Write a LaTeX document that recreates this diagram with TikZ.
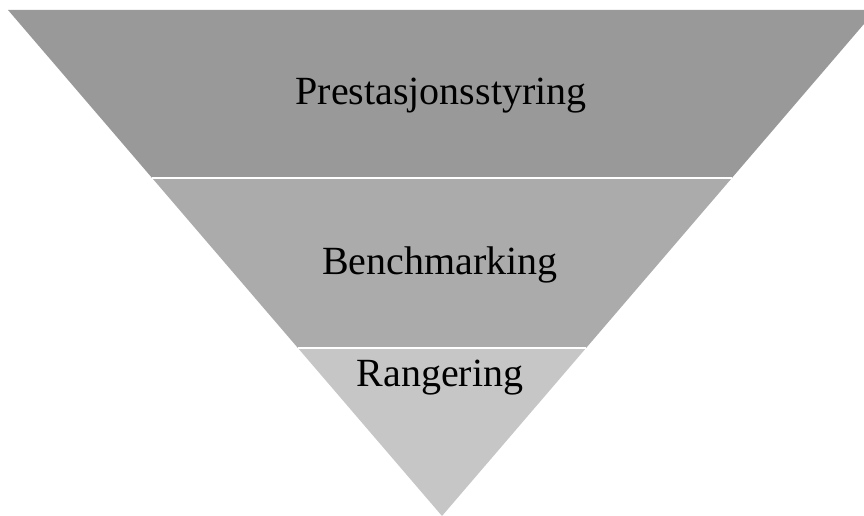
\documentclass[tikz,border=0pt]{standalone}
\usepackage{fontspec}
\setmainfont{Liberation Serif}
\definecolor{tierA}{HTML}{999999}
\definecolor{tierB}{HTML}{ABABAB}
\definecolor{tierC}{HTML}{C6C6C6}
\tikzset{
  tierlabel/.style={anchor=base, inner sep=0pt, text=black, font=\fontsize{40}{48}\selectfont},
  separator/.style={draw=white, line width=2pt}
}
\begin{document}
\begin{tikzpicture}[x=1pt,y=1pt]
  \useasboundingbox (0,0) rectangle (864,516);
  \clip (0,0) rectangle (864,516);
  % corners of the inverted triangle and the two cut lines
  \coordinate (tl) at (8,506);
  \coordinate (tr) at (876,506);
  \coordinate (apex) at (442,0);
  \coordinate (m1l) at (152.1,338);
  \coordinate (m1r) at (731.9,338);
  \coordinate (m2l) at (297.9,168);
  \coordinate (m2r) at (586.1,168);
  % three tiers
  \fill[tierA] (tl) -- (tr) -- (m1r) -- (m1l) -- cycle;
  \fill[tierB] (m1l) -- (m1r) -- (m2r) -- (m2l) -- cycle;
  \fill[tierC] (m2l) -- (m2r) -- (apex) -- cycle;
  % white gaps between tiers
  \draw[separator] (m1l) -- (m1r);
  \draw[separator] (m2l) -- (m2r);
  % labels
  \node[tierlabel] (top) at (441,411) {Prestasjonsstyring};
  \node[tierlabel] (mid) at (440,241) {Benchmarking};
  \node[tierlabel] (low) at (440,129) {Rangering};
\end{tikzpicture}
\end{document}
